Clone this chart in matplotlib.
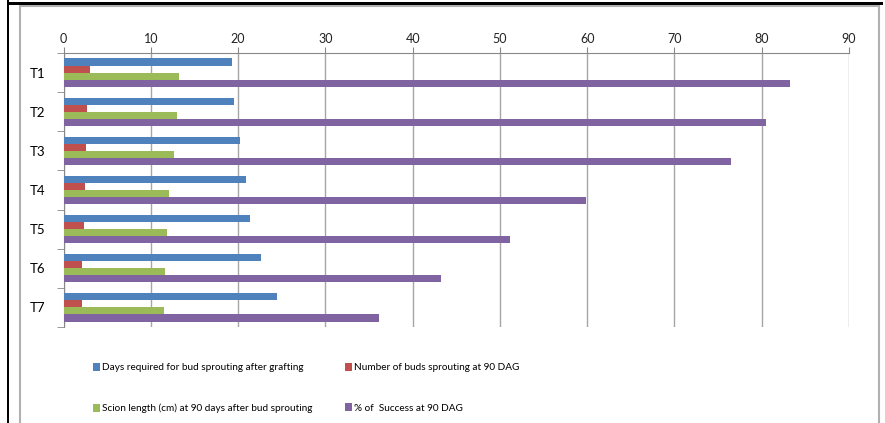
import matplotlib.pyplot as plt
import numpy as np
from matplotlib.patches import Rectangle

treatments = ['T1', 'T2', 'T3', 'T4', 'T5', 'T6', 'T7']
days_to_sprout = [19.3, 19.5, 20.2, 20.9, 21.4, 22.6, 24.5]
buds_sprouting = [3.0, 2.7, 2.6, 2.5, 2.4, 2.1, 2.1]
scion_length = [13.2, 13.0, 12.7, 12.1, 11.9, 11.6, 11.5]
success_pct = [83.2, 80.5, 76.5, 59.9, 51.2, 43.3, 36.2]

series = [
    ('Days required for bud sprouting after grafting', days_to_sprout, '#4F81BD'),
    ('Number of buds sprouting at 90 DAG', buds_sprouting, '#C0504D'),
    ('Scion length (cm) at 90 days after bud sprouting', scion_length, '#9BBB59'),
    ('% of  Success at 90 DAG', success_pct, '#8064A2'),
]

plt.rcParams['font.family'] = ['Lato', 'DejaVu Sans']

W, H = 885, 423
fig = plt.figure(figsize=(W / 100, H / 100), dpi=100)
ax = fig.add_axes([63.5 / W, 1 - 327 / H, (849 - 63.5) / W, (327 - 53) / H])

pos = np.arange(len(treatments))
bar_h = 0.18
for i, (label, vals, color) in enumerate(series):
    offset = (i - 1.5) * bar_h
    ax.barh(pos + offset, vals, height=bar_h, color=color, label=label, zorder=3)

ax.set_xlim(0, 90)
ax.set_ylim(len(treatments) - 0.5, -0.5)
ax.set_xticks(range(0, 91, 10))
ax.xaxis.tick_top()
ax.tick_params(axis='x', length=4, color='#888888', labelsize=9, labelcolor='#222222', pad=2)
ax.grid(axis='x', color='#a6a6a6', linewidth=1, zorder=0)

# category labels centred, tick marks on the boundaries
ax.set_yticks(pos)
ax.set_yticklabels(treatments)
ax.set_yticks(np.arange(-0.5, len(treatments)), minor=True)
ax.tick_params(axis='y', which='major', length=0, labelsize=9.5, pad=13)
ax.tick_params(axis='y', which='minor', length=5, color='#888888')

for side in ['right', 'bottom']:
    ax.spines[side].set_visible(False)
for side in ['top', 'left']:
    ax.spines[side].set_color('#888888')

# outer frames
fig.patches.append(Rectangle((20 / W, -0.1), 859 / W, 1.1 - 6 / H, transform=fig.transFigure,
                             fill=False, edgecolor='#b0b0b0', linewidth=1.5))
fig.patches.append(Rectangle((7 / W, -0.1), 2 / W, 1.1, transform=fig.transFigure,
                             color='black', linewidth=0))
fig.patches.append(Rectangle((7 / W, 1 - 5 / H), (883 - 7) / W, 3 / H, transform=fig.transFigure,
                             color='black', linewidth=0))

handles, labels = ax.get_legend_handles_labels()
order = [0, 2, 1, 3]
fig.legend([handles[i] for i in order], [labels[i] for i in order],
           loc='upper left', bbox_to_anchor=(84 / W, 1 - 354 / H), ncol=2,
           frameon=False, handlelength=0.7, handleheight=0.85,
           handletextpad=0.2, labelspacing=3.1, columnspacing=3.3,
           prop={'size': 7.2})

fig.savefig('out.png', dpi=100)
